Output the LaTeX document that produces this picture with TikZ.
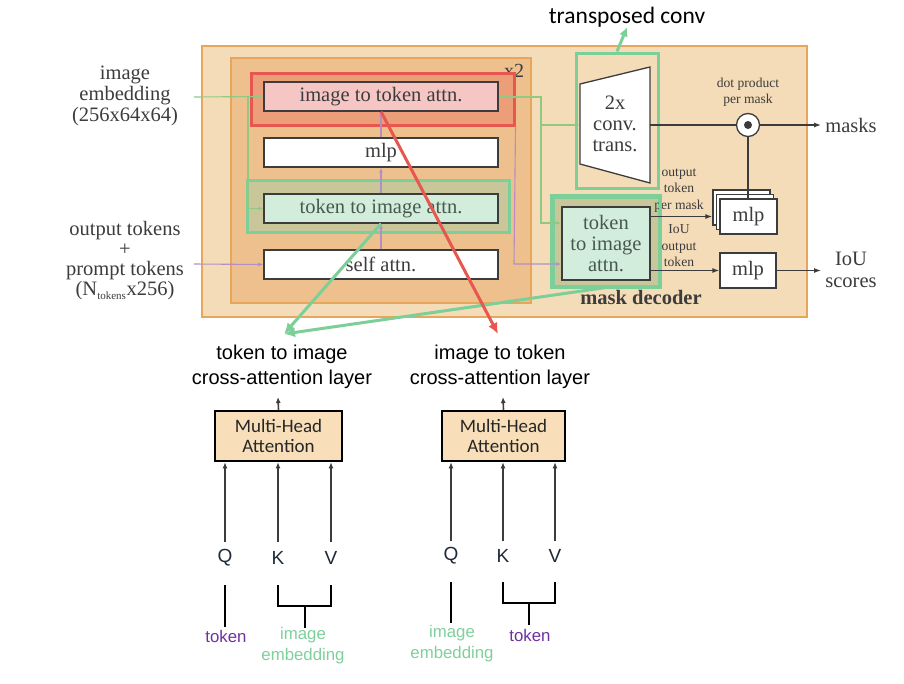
\documentclass[tikz,border=0pt]{standalone}
\usepackage{fontspec}
\setmainfont{Liberation Serif}
\newfontfamily\arialf{Liberation Sans}
\newfontfamily\calib{Carlito}
\usetikzlibrary{arrows.meta,calc}
\definecolor{peachL}{HTML}{F5DCB8}
\definecolor{peachD}{HTML}{EDC08D}
\definecolor{orng}{HTML}{E8A65A}
\definecolor{redf}{HTML}{EC9E78}
\definecolor{redl}{HTML}{E8574F}
\definecolor{pinkf}{HTML}{F6C6C4}
\definecolor{greenl}{HTML}{7DCF9A}
\definecolor{greena}{HTML}{92C982}
\definecolor{olive}{HTML}{C9C799}
\definecolor{mint}{HTML}{D3EDDC}
\definecolor{purp}{HTML}{B290C4}
\definecolor{purpt}{HTML}{7030A0}
\definecolor{greent}{HTML}{80D09C}
\definecolor{dk}{HTML}{3C3C3C}
\definecolor{navy}{HTML}{1E2A38}
\definecolor{mintt}{HTML}{46594E}
\definecolor{mhaf}{HTML}{F8DFB9}
\tikzset{
  blk/.style={draw=dk, line width=1.3pt, inner sep=0pt, font=\fontsize{20.5}{21}\selectfont, text=dk},
  sm/.style={font=\fontsize{13.6}{16.5}\selectfont, text=dk, align=center, inner sep=0pt},
  grn/.style={draw=greena, line width=1.1pt, -{Latex[length=5pt,width=4pt]}},
  prp/.style={draw=purp, line width=1.1pt, -{Latex[length=5pt,width=4pt]}},
  blarrow/.style={draw=dk, line width=1.2pt, -{Latex[length=7pt,width=5pt]}},
  lbl/.style={font=\arialf\fontsize{20}{25}\selectfont, align=center, inner sep=0pt},
  mha/.style={draw=black, line width=2.5pt, fill=mhaf, minimum height=50pt, inner sep=0pt, font=\calib\fontsize{19}{20}\selectfont, align=center, text=black!85},
  qkv/.style={font=\arialf\fontsize{19}{20}\selectfont, inner sep=0pt, text=navy},
  karr/.style={draw=dk, line width=1.6pt, -{Latex[length=6pt,width=5pt]}},
  kln/.style={draw=black, line width=2.5pt},
}
\begin{document}
\begin{tikzpicture}[x=1pt,y=-1pt]
\useasboundingbox (0,0) rectangle (904,683);
\fill[white] (0,0) rectangle (904,683);

% mask decoder outer
\node[draw=orng, line width=2.5pt, fill=peachL, minimum width=605pt, minimum height=271pt, inner sep=0pt] (dec) at (504.5,181.5) {};
% x2 box
\node[draw=orng, line width=2pt, fill=peachD, minimum width=300pt, minimum height=245pt, inner sep=0pt] (rep) at (381,180.5) {};
\node[font=\fontsize{20}{20}\selectfont, text=dk, inner sep=0pt] (x2) at (514,71) {x2};

% red and green highlight boxes
\node[draw=redl, line width=3pt, fill=redf, minimum width=263pt, minimum height=52pt, inner sep=0pt] (redbox) at (382.5,99) {};
\node[draw=greenl, line width=3pt, fill=olive, minimum width=262pt, minimum height=52pt, inner sep=0pt] (grnbox) at (378,206) {};

% left inputs
\node[font=\fontsize{20.5}{21}\selectfont, text=dk, align=center, inner sep=0pt] (imgemb) at (125,96) {image\\embedding\\(256x64x64)};
\node[font=\fontsize{20.5}{20}\selectfont, text=dk, align=center, inner sep=0pt] (outtok) at (125,261) {output tokens\\+\\prompt tokens\\(N\textsubscript{\fontsize{11}{11}\selectfont tokens}x256)};
\coordinate (ieS) at (194,97);
\coordinate (otS) at (194,264);

% transformer blocks
\node[blk, fill=pinkf, minimum width=234pt, minimum height=29pt] (i2t) at (381,96.5) {image to token attn.};
\node[blk, fill=white, minimum width=234pt, minimum height=29pt] (mlpA) at (381,152.5) {mlp};
\node[blk, fill=mint, text=mintt, minimum width=234pt, minimum height=29pt] (t2i) at (381,208.5) {token to image attn.};
\node[blk, fill=white, minimum width=234pt, minimum height=29pt] (self) at (381,264.5) {self attn.};

% right side
\node[draw=greenl, line width=3pt, fill=olive, minimum width=106pt, minimum height=89pt, inner sep=0pt] (t2iRo) at (606,241.5) {};
\node[blk, fill=mint, text=mintt, minimum width=88pt, minimum height=73pt, align=center] (t2iR) at (606,243.5) {token\\to image\\attn.};

\coordinate (tz1) at (580,84);
\coordinate (tz2) at (650,67);
\coordinate (tz3) at (650,183);
\coordinate (tz4) at (580,164);
\draw[draw=dk, line width=1.3pt, fill=white] (tz1) -- (tz2) -- (tz3) -- (tz4) -- cycle;
\node[font=\fontsize{20.5}{21}\selectfont, text=dk, align=center, inner sep=0pt] (conv) at (615,124) {2x\\conv.\\trans.};
\coordinate (tzR) at (650,125);
\coordinate (tzL) at (580,125);
\node[draw=greenl, line width=3pt, minimum width=82pt, minimum height=135pt, inner sep=0pt] (tcbox) at (617,120.5) {};
\node[font=\calib\fontsize{23.5}{24}\selectfont, inner sep=0pt] (tconv) at (627,17) {transposed conv};
\draw[draw=greenl, line width=3pt, -{Latex[length=9pt,width=9pt]}] (tcbox.north) -- (tconv.south);

\node[circle, draw=dk, line width=1.3pt, fill=white, minimum size=23pt, inner sep=0pt] (dot) at (748,125) {};
\fill[dk] (dot.center) circle (4pt);
\node[sm] (dotlbl) at (748,92) {dot product\\per mask};
\draw[draw=dk, line width=1.2pt] (tzR) -- (dot.west);
\coordinate (maskE) at (821,125);
\draw[blarrow] (dot.east) -- (maskE);
\node[font=\fontsize{20.5}{21}\selectfont, text=dk, inner sep=0pt] (masks) at (851,125) {masks};

% mlp stack
\node[blk, fill=white, minimum width=57pt, minimum height=35pt] (mlpB2) at (741.5,207.5) {};
\node[blk, fill=white, minimum width=57pt, minimum height=35pt] (mlpB1) at (745,212) {};
\draw[draw=dk, line width=1.3pt] (dot.south) -- (748,199);
\node[blk, fill=white, minimum width=57pt, minimum height=35pt] (mlpF) at (748.5,216.5) {mlp};
\node[blk, fill=white, minimum width=56pt, minimum height=35pt] (mlp2) at (748,270.5) {mlp};

\node[sm] (outlbl) at (679,190.5) {output\\token\\per mask};
\node[sm] (ioulbl) at (679,246) {IoU\\output\\token};
% redraw green outline over label
\draw[draw=greenl, line width=3pt] (t2iRo.north west) rectangle (t2iRo.south east);

\draw[blarrow] (t2iR.east |- mlpF.center) -- (mlpB2.west |- mlpF.center);
\draw[blarrow] (t2iR.east |- mlp2.center) -- (mlp2.west);
\coordinate (iouE) at (821,270.5);
\draw[blarrow] (mlp2.east) -- (iouE);
\node[font=\fontsize{20.5}{22}\selectfont, text=dk, align=center, inner sep=0pt] (iou) at (851,270) {IoU\\scores};

\node[font=\bfseries\fontsize{20.5}{21}\selectfont, text=dk, inner sep=0pt] (mdlbl) at (641,297) {mask decoder};

% green image embedding paths
\coordinate (gj1) at (248,97);
\draw[grn] (ieS) -- (i2t.west);
\draw[grn] (gj1) |- (t2i.west);
\coordinate (gj2) at (541,97);
\coordinate (gj3) at (541,125);
\draw[grn] (i2t.east |- gj2) -| (541,223) -- (t2iR.west |- 0,223);
\draw[grn] (gj3) -- (tzL);

% purple token paths
\draw[prp] (otS) -- (self.west);
\draw[prp] (self.north) -- (t2i.south);
\draw[prp] (t2i.north) -- (mlpA.south);
\draw[prp] (mlpA.north) -- (i2t.south);
\draw[prp] (redbox.south east) -- (514,264) -- (t2iR.west |- 0,264);

% bottom: attention layers
\node[lbl] (lblA) at (282,367) {token to image\\cross-attention layer};
\node[lbl] (lblB) at (500,367) {image to token\\cross-attention layer};

% long callout lines
\coordinate (tipA) at (284,334);
\coordinate (tipB) at (498,334);
\draw[draw=greenl, line width=3pt, -{Latex[length=11pt,width=10pt]}] (t2i.south) -- (tipA);
\draw[draw=greenl, line width=3pt, -{Latex[length=11pt,width=10pt]}] (t2iRo.south) -- (tipA);
\draw[draw=redl, line width=3pt, -{Latex[length=11pt,width=10pt]}] (i2t.south) -- (tipB);

% MHA 1
\node[mha, minimum width=127pt] (mha1) at (278.5,436) {Multi-Head\\Attention};
\coordinate (outA) at (278,397);
\draw[karr] (mha1.north) -- (outA);
\node[qkv] (Q1) at (225,558) {Q};
\node[qkv] (K1) at (278,558) {K};
\node[qkv] (V1) at (331,558) {V};
\draw[karr] (225,542) -- (Q1 |- mha1.south);
\draw[karr] (278,542) -- (K1 |- mha1.south);
\draw[karr] (331,542) -- (V1 |- mha1.south);
\node[font=\arialf\fontsize{16.8}{21}\selectfont, text=purpt, inner sep=0pt] (tokA) at (226,636) {token};
\node[font=\arialf\fontsize{16.8}{21}\selectfont, text=greent, align=center, inner sep=0pt] (embA) at (303,646) {image\\embedding};
\draw[kln] (225,585) -- (225,627);
\draw[kln] (278,585) -- (278,606) -- (331,606) -- (331,585);
\draw[kln] (305,606) -- (305,628);

% MHA 2
\node[mha, minimum width=123pt] (mha2) at (503.5,436) {Multi-Head\\Attention};
\coordinate (outB) at (503,397);
\draw[karr] (mha2.north) -- (outB);
\node[qkv] (Q2) at (451,556) {Q};
\node[qkv] (K2) at (503,556) {K};
\node[qkv] (V2) at (555,556) {V};
\draw[karr] (451,541) -- (Q2 |- mha2.south);
\draw[karr] (503,541) -- (K2 |- mha2.south);
\draw[karr] (555,541) -- (V2 |- mha2.south);
\node[font=\arialf\fontsize{16.8}{21}\selectfont, text=greent, align=center, inner sep=0pt] (embB) at (452,644) {image\\embedding};
\node[font=\arialf\fontsize{16.8}{21}\selectfont, text=purpt, inner sep=0pt] (tokB) at (530,635) {token};
\draw[kln] (451,582) -- (451,623);
\draw[kln] (503,582) -- (503,603) -- (555,603) -- (555,582);
\draw[kln] (529,603) -- (529,625);
\end{tikzpicture}
\end{document}
